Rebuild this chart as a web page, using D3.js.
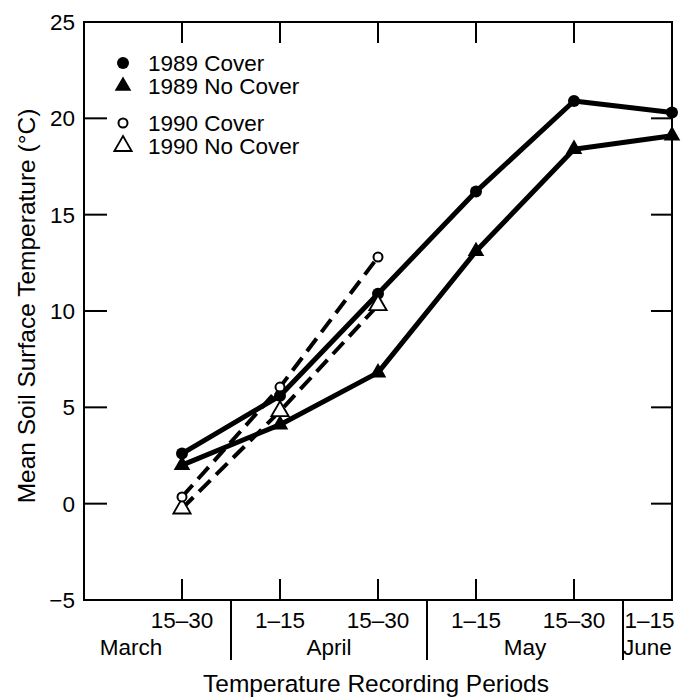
<!DOCTYPE html>
<html>
<head>
<meta charset="UTF-8">
<title>Mean Soil Surface Temperature</title>
<script src="https://cdn.jsdelivr.net/npm/d3@7"></script>
<style>
  body { margin: 0; background: #fff; }
  text { font-family: "Liberation Sans", Arial, Helvetica, sans-serif; fill: #000; }
</style>
</head>
<body>
<svg width="695" height="700"></svg>
<script>
// periods (index 0..5), with month groups below
const periods = ["15\u201330", "1\u201315", "15\u201330", "1\u201315", "15\u201330", "1\u201315"];
const months = ["March", "April", "May", "June"];
const monthCenters = [-0.52, 1.5, 3.5, 4.75];   // in period units
const monthBreaks = [0.5, 2.5, 4.5];
const yTicks = [-5, 0, 5, 10, 15, 20, 25];

const cover89   = [2.6, 5.6, 10.9, 16.2, 20.9, 20.3];
const noCover89 = [2.0, 4.1, 6.8, 13.1, 18.4, 19.1];
const cover90   = [0.35, 6.05, 12.8];
const noCover90 = [-0.25, 4.8, 10.3];

const svg = d3.select("svg");
const mLeft = 84, mRight = 672, mTop = 22, mBottom = 600;
const fs = 22.5;

const x = d3.scaleLinear().domain([-1, 5]).range([mLeft, mRight]);
const y = d3.scaleLinear().domain([-5, 25]).range([mBottom, mTop]);

// frame
svg.append("rect")
    .attr("x", mLeft).attr("y", mTop)
    .attr("width", mRight - mLeft).attr("height", mBottom - mTop)
    .attr("fill", "none").attr("stroke", "#000").attr("stroke-width", 2);

// inward ticks on all four sides
const tk = 21;
periods.forEach((p, i) => {
    svg.append("line").attr("x1", x(i)).attr("x2", x(i))
        .attr("y1", mBottom).attr("y2", mBottom - tk).attr("stroke", "#000").attr("stroke-width", 2);
    svg.append("line").attr("x1", x(i)).attr("x2", x(i))
        .attr("y1", mTop).attr("y2", mTop + tk).attr("stroke", "#000").attr("stroke-width", 2);
});
yTicks.forEach(v => {
    svg.append("line").attr("x1", mLeft).attr("x2", mLeft + 23)
        .attr("y1", y(v)).attr("y2", y(v)).attr("stroke", "#000").attr("stroke-width", 2);
    svg.append("line").attr("x1", mRight).attr("x2", mRight - 21)
        .attr("y1", y(v)).attr("y2", y(v)).attr("stroke", "#000").attr("stroke-width", 2);
    svg.append("text").attr("x", 75).attr("y", y(v) + 8)
        .attr("text-anchor", "end").attr("font-size", fs)
        .text(v < 0 ? "\u2212" + Math.abs(v) : v);
});

// period labels
periods.forEach((p, i) => {
    const last = i === periods.length - 1;
    svg.append("text")
        .attr("x", last ? x(4.77) : x(i)).attr("y", 628)
        .attr("text-anchor", "middle").attr("font-size", fs)
        .text(p);
});

// month separators and labels
monthBreaks.forEach(b => {
    svg.append("line").attr("x1", x(b)).attr("x2", x(b))
        .attr("y1", mBottom).attr("y2", 660).attr("stroke", "#000").attr("stroke-width", 2);
});
months.forEach((m, i) => {
    svg.append("text").attr("x", x(monthCenters[i])).attr("y", 655)
        .attr("text-anchor", "middle").attr("font-size", fs).text(m);
});

// axis titles
svg.append("text").attr("x", 376).attr("y", 692)
    .attr("text-anchor", "middle").attr("font-size", 24.5)
    .text("Temperature Recording Periods");
svg.append("text")
    .attr("transform", `translate(35,306) rotate(-90)`)
    .attr("text-anchor", "middle").attr("font-size", 24.5)
    .text("Mean Soil Surface Temperature (\u00B0C)");

// lines
const line = d3.line().x((d, i) => x(i)).y(d => y(d));
svg.append("path").datum(cover89).attr("d", line)
    .attr("fill", "none").attr("stroke", "#000").attr("stroke-width", 5).attr("stroke-linejoin", "round");
svg.append("path").datum(noCover89).attr("d", line)
    .attr("fill", "none").attr("stroke", "#000").attr("stroke-width", 5).attr("stroke-linejoin", "round");
svg.append("path").datum(cover90).attr("d", line)
    .attr("fill", "none").attr("stroke", "#000").attr("stroke-width", 4).attr("stroke-dasharray", "16,8");
svg.append("path").datum(noCover90).attr("d", line)
    .attr("fill", "none").attr("stroke", "#000").attr("stroke-width", 4).attr("stroke-dasharray", "16,8");

// markers
const tri = d3.symbol().type(d3.symbolTriangle);
function filledCircle(cx, cy) {
    svg.append("circle").attr("cx", cx).attr("cy", cy).attr("r", 6).attr("fill", "#000");
}
function openCircle(cx, cy) {
    svg.append("circle").attr("cx", cx).attr("cy", cy).attr("r", 4.5)
        .attr("fill", "#fff").attr("stroke", "#000").attr("stroke-width", 2);
}
function filledTri(cx, cy) {
    svg.append("path").attr("d", tri.size(120)()).attr("transform", `translate(${cx},${cy})`)
        .attr("fill", "#000");
}
function openTri(cx, cy) {
    svg.append("path").attr("d", tri.size(130)()).attr("transform", `translate(${cx},${cy})`)
        .attr("fill", "#fff").attr("stroke", "#000").attr("stroke-width", 1.8);
}
noCover89.forEach((v, i) => filledTri(x(i), y(v)));
cover89.forEach((v, i) => filledCircle(x(i), y(v)));
noCover90.forEach((v, i) => openTri(x(i), y(v)));
cover90.forEach((v, i) => openCircle(x(i), y(v)));

// legend
const legend = [
    { label: "1989 Cover", draw: filledCircle, yy: 63 },
    { label: "1989 No Cover", draw: filledTri, yy: 86 },
    { label: "1990 Cover", draw: openCircle, yy: 123 },
    { label: "1990 No Cover", draw: openTri, yy: 146 }
];
legend.forEach(l => {
    l.draw(123, l.yy);
    svg.append("text").attr("x", 148).attr("y", l.yy + 8).attr("font-size", fs).text(l.label);
});
</script>
</body>
</html>
